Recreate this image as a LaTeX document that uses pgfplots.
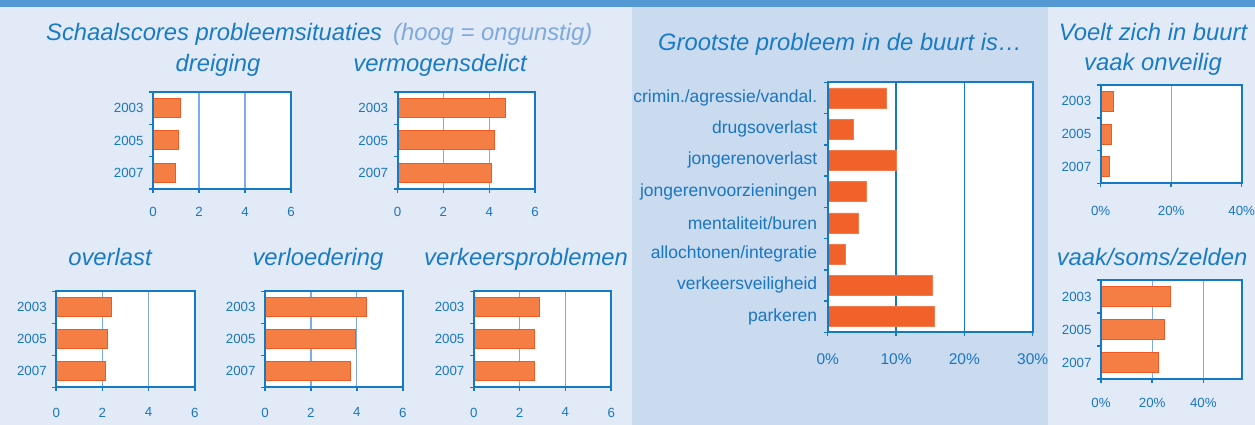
\documentclass[border=0pt]{standalone}
\usepackage{fontspec}
\setmainfont{Liberation Sans}
\usepackage{pgfplots}
\pgfplotsset{compat=1.18}
\definecolor{bgL}{HTML}{E2EAF7}
\definecolor{bgM}{HTML}{CADAEF}
\definecolor{strip}{HTML}{5499D3}
\definecolor{axisblue}{HTML}{1479C6}
\definecolor{tickblue}{HTML}{1976C2}
\definecolor{titleblue}{HTML}{1A7BC5}
\definecolor{lightblue}{HTML}{7EA9DC}
\definecolor{gridblue}{HTML}{7EACE0}
\definecolor{barfill}{HTML}{F47E44}
\definecolor{baredge}{HTML}{EE5A24}
\definecolor{barmid}{HTML}{F1622A}
\tikzset{leftline/.style={draw=axisblue, line width=1.8pt},
  tickline/.style={draw=axisblue, line width=1.5pt}}
\pgfplotsset{
  base/.style={
    scale only axis, xbar, y dir=reverse, clip=false,
    axis background/.style={fill=white},
    axis line style={draw=axisblue, line width=1.8pt},
    tick align=outside, tick pos=left,
    major tick length=4pt, minor tick length=4pt,
    tick style={draw=none},
    xmajorgrids,
    major x grid style={draw=gridblue, line width=1.2pt},
    tick label style={text=tickblue},
    /pgf/number format/assume math mode=true,
    bar shift=0pt,
  },
  small/.style={base,
    xmin=0, xmax=6, xtick={0,2,4,6},
    ymin=-0.5, ymax=2.5, ytick={0,1,2}, yticklabels={2003,2005,2007},
    bar width=19pt,
    tick label style={font=\fontsize{13.3}{13.3}\selectfont},
    yticklabel style={xshift=-2pt},
  },
  pct/.style={base,
    ymin=-0.5, ymax=2.5, ytick={0,1,2}, yticklabels={2003,2005,2007},
    bar width=20pt,
    xtick={0,20,40}, xticklabels={0\%,20\%,40\%},
    tick label style={font=\fontsize{13.3}{13.3}\selectfont},
    yticklabel style={xshift=-2pt},
  },
  sbar/.style={fill=barfill, draw=baredge, line width=1pt},
}
% manual ticks: #1 = list of x ticks, #2 = ymax (bottom), #3 = list of y boundaries
\newcommand{\ticksxy}[3]{%
  \pgfplotsinvokeforeach{#1}{\draw[tickline] (axis cs:##1,#2) -- ([yshift=-4pt]axis cs:##1,#2);}%
  \pgfplotsinvokeforeach{#3}{\draw[tickline] (axis cs:0,##1) -- ([xshift=-4pt]axis cs:0,##1);}%
  \draw[leftline] (rel axis cs:0,0) -- (rel axis cs:0,1);}
\newcommand{\ttl}{\fontsize{23.8}{23.8}\selectfont\itshape}
\begin{document}
\begin{tikzpicture}
\useasboundingbox (0,0) rectangle (1255pt,425pt);
\fill[bgL] (0,0) rectangle (1255pt,425pt);
\fill[bgM] (632pt,0) rectangle (1048pt,418pt);
\fill[strip] (0,418pt) rectangle (1255pt,425pt);

% titles
\node[anchor=base west, inner sep=0, text=titleblue, font=\ttl] at (46pt,384pt) {Schaalscores probleemsituaties};
\node[anchor=base west, inner sep=0, text=lightblue, font=\ttl] at (393pt,384pt) {(hoog = ongunstig)};
\node[anchor=base, inner sep=0, text=titleblue, font=\ttl] at (218pt,353pt) {dreiging};
\node[anchor=base, inner sep=0, text=titleblue, font=\ttl] at (440pt,353pt) {vermogensdelict};
\node[anchor=base, inner sep=0, text=titleblue, font=\ttl] at (110pt,159pt) {overlast};
\node[anchor=base, inner sep=0, text=titleblue, font=\ttl] at (318pt,159pt) {verloedering};
\node[anchor=base, inner sep=0, text=titleblue, font=\ttl] at (526pt,159pt) {verkeersproblemen};
\node[anchor=base, inner sep=0, text=titleblue, font=\ttl] at (840pt,374pt) {Grootste probleem in de buurt is…};
\node[anchor=base, inner sep=0, text=titleblue, font=\ttl] at (1153pt,384pt) {Voelt zich in buurt};
\node[anchor=base, inner sep=0, text=titleblue, font=\ttl] at (1153pt,354pt) {vaak onveilig};
\node[anchor=base, inner sep=0, text=titleblue, font=\ttl] at (1152pt,159pt) {vaak/soms/zelden};

% dreiging
\begin{axis}[small, at={(153pt,236pt)}, anchor=south west, width=138pt, height=97pt,
  xticklabel style={yshift=-11pt}]
\addplot[sbar] coordinates {(1.19,0) (1.09,1) (0.98,2)};
\ticksxy{0,2,4,6}{2.5}{-0.5,0.5,1.5,2.5}
\end{axis}
% vermogensdelict
\begin{axis}[small, at={(397.6pt,236pt)}, anchor=south west, width=137.5pt, height=97pt,
  xticklabel style={yshift=-11pt}]
\addplot[sbar] coordinates {(4.70,0) (4.23,1) (4.09,2)};
\ticksxy{0,2,4,6}{2.5}{-0.5,0.5,1.5,2.5}
\end{axis}
% overlast
\begin{axis}[small, at={(56.2pt,37.7pt)}, anchor=south west, width=138.6pt, height=96pt,
  xticklabel style={yshift=-13pt}]
\addplot[sbar] coordinates {(2.38,0) (2.23,1) (2.14,2)};
\ticksxy{0,2,4,6}{2.5}{-0.5,0.5,1.5,2.5}
\end{axis}
% verloedering
\begin{axis}[small, at={(265pt,37.7pt)}, anchor=south west, width=137.8pt, height=96pt,
  xticklabel style={yshift=-13pt}]
\addplot[sbar] coordinates {(4.41,0) (3.94,1) (3.73,2)};
\ticksxy{0,2,4,6}{2.5}{-0.5,0.5,1.5,2.5}
\end{axis}
% verkeersproblemen
\begin{axis}[small, at={(473.9pt,37.7pt)}, anchor=south west, width=137.3pt, height=96pt,
  xticklabel style={yshift=-13pt}]
\addplot[sbar] coordinates {(2.86,0) (2.63,1) (2.65,2)};
\ticksxy{0,2,4,6}{2.5}{-0.5,0.5,1.5,2.5}
\end{axis}

% middle
\begin{axis}[base, at={(827.7pt,92.7pt)}, anchor=south west, width=205pt, height=250pt,
  xmin=0, xmax=30, xtick={0,10,20,30}, xticklabels={0\%,10\%,20\%,30\%},
  ymin=-0.5, ymax=7.5, ytick={0,...,7},
  yticklabels={crimin./agressie/vandal.,drugsoverlast,jongerenoverlast,jongerenvoorzieningen,mentaliteit/buren,allochtonen/integratie,verkeersveiligheid,parkeren},
  bar width=20pt,
  major x grid style={draw=axisblue, line width=1.5pt},
  xticklabel style={font=\fontsize{15.5}{15.5}\selectfont, yshift=-14pt},
  yticklabel style={font=\fontsize{17.5}{17.5}\selectfont, xshift=-3pt}]
\addplot[fill=barmid, draw=barmid!85!white, line width=0.8pt] coordinates {(8.64,0) (3.81,1) (10.1,2) (5.61,3) (4.53,4) (2.54,5) (15.27,6) (15.61,7)};
\ticksxy{0,10,20,30}{7.5}{-0.5,0.5,1.5,2.5,3.5,4.5,5.5,6.5,7.5}
\end{axis}

% right top
\begin{axis}[pct, at={(1100.7pt,241.7pt)}, anchor=south west, width=141pt, height=98.3pt,
  xmin=0, xmax=40, xticklabel style={yshift=-15pt}]
\addplot[sbar] coordinates {(3.7,0) (3.1,1) (2.6,2)};
\ticksxy{0,20,40}{2.5}{-0.5,0.5,1.5,2.5}
\end{axis}
% right bottom
\begin{axis}[pct, at={(1101pt,46pt)}, anchor=south west, width=140.7pt, height=99pt,
  xmin=0, xmax=55, xticklabel style={yshift=-12pt}]
\addplot[sbar] coordinates {(27.2,0) (24.9,1) (22.5,2)};
\ticksxy{0,20,40}{2.5}{-0.5,0.5,1.5,2.5}
\end{axis}
\end{tikzpicture}
\end{document}
